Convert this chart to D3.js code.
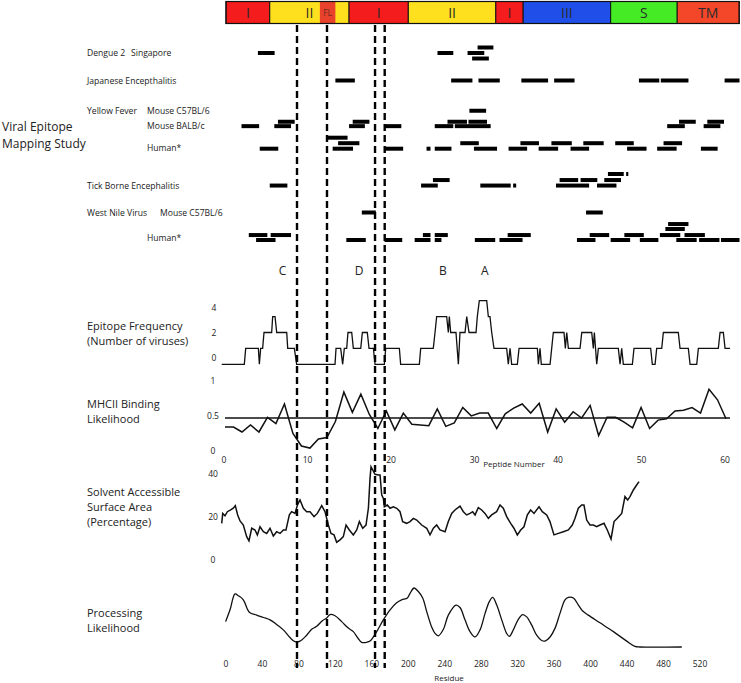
<!DOCTYPE html>
<html>
<head>
<meta charset="utf-8">
<title>Viral Epitope Mapping</title>
<script src="https://cdn.jsdelivr.net/npm/d3@7"></script>
<style>
  body { margin: 0; background: #fff; }
  text { font-family: "Open Sans", "Noto Sans", sans-serif; fill: #222; }
</style>
</head>
<body>
<div id="container"></div>
<script>

const width = 741,
      height = 683;

// ---- data ----

// protein domain schematic, in residues
const domainNames  = ["I", "II", "I", "II", "I", "III", "S", "TM"];
const domainStarts = [0, 48, 135, 200, 296, 326, 422, 495];
const domainEnds   = [48, 135, 200, 296, 326, 422, 495, 563];
const domainKinds  = ["I", "II", "I", "II", "I", "III", "S", "TM"];
const fusionLoop   = [103, 120];

// dashed region markers, in residues
const markers = [77.9, 110.8, 163.5, 174.1];

// epitope bars: [start residue, end residue, track]
const dengue2 = [[35,54,2],[232,250,2],[265,284,2],[276,294,1],[270,289,3]];
const japaneseEnc = [[120,142,7],[247,271,7],[277,301,7],[324,354,7],[360,383,7],[453,476,7],[477,508,7],[547,564,7]];
const yfC57 = [[267,286,12.5],[57,76,14.5],[139,158,14.5],[243,265,14.5],[266,287,14.5],[497,516,14.5],[528,547,14.5]];
const yfBalb = [[17,37,15.3],[53,72,15.3],[135,153,15.3],[174,193,15.3],[229,250,15.3],[251,291,15.3],[484,504,15.3],[524,543,15.3]];
const yfHuman = [[110,134,17.4],[123,147,18.4],[257,278,18.4],[323,344,18.4],[357,380,18.4],[392,415,18.4],[427,448,18.4],[480,501,18.4],
                 [37,58,19.4],[117,140,19.4],[174,195,19.4],[220,225,19.4],[229,248,19.4],[272,298,19.4],[310,331,19.4],[343,365,19.4],
                 [378,399,19.4],[440,462,19.4],[473,495,19.4],[521,540,19.4]];
const tickBorne = [[419,437,24],[439,442,24],[227,246,25.1],[366,387,25.1],[389,408,25.1],[415,434,25.1],
                   [48,68,26.1],[214,233,26.1],[279,313,26.1],[315,319,26.1],[362,399,26.1],[407,429,26.1]];
const wnC57 = [[149,165,31],[395,414,31]];
const wnHuman = [[485,508,33.1],[482,504,34],
                 [25,46,35.1],[49,72,35.1],[216,225,35.1],[229,244,35.1],[309,335,35.1],[399,421,35.1],[437,459,35.1],[476,499,35.1],[503,526,35.1],
                 [33,55,36],[132,154,36],[174,194,36],[207,225,36],[229,237,36],[273,296,36],[300,326,36],[385,406,36],[422,444,36],
                 [454,475,36],[494,517,36],[519,542,36],[543,564,36]];

// study row labels: [virus, host/strain, track]
const studyRows = [
  ["Dengue 2", "Singapore", 2],
  ["Japanese Encepthalitis", "", 7],
  ["Yellow Fever", "Mouse C57BL/6", 12.5],
  ["", "Mouse BALB/c", 15.3],
  ["", "Human*", 19.2],
  ["Tick Borne Encephalitis", "", 26.1],
  ["West Nile Virus", "Mouse C57BL/6", 31],
  ["", "Human*", 35.7]
];

// epitope clusters: [letter, residue]
const clusters = [["C", 62], ["D", 146], ["B", 238], ["A", 284]];

// epitope frequency step trace: [residue, number of viruses]
const freqTrace = [
  [-4.7,0],[20.1,0],[21.6,1],[35.5,1],[36.6,0],[38,1],[40.2,1],[41.7,2],[50.1,2],[51.2,3],[53.8,3],[55.6,2],[66.6,2],[67.7,1],
  [75,1],[77.5,0],[119.6,0],[120.7,1],[125.8,1],[128,0],[129.8,1],[132.4,1],[133.8,2],[137.9,2],[139.7,1],[147.8,1],[149.6,2],
  [155,2],[156.9,1],[161.7,1],[163.5,0],[173.7,0],[175.2,1],[190.2,1],[191.6,0],[212.1,0],[213.6,1],[227.4,1],[229.3,2],[231.1,3],
  [242.1,3],[243.9,2],[245,3],[246.5,2],[252.3,2],[254.9,0],[256.7,2],[262.2,2],[264.1,3],[266.6,2],[274.3,2],[275.7,3],[277.9,4],
  [286,4],[287.8,3],[289.6,3],[291.5,2],[294,1],[307.9,1],[309.7,0],[311.6,1],[313.4,0],[319.6,0],[321.5,1],[341.6,1],[342.7,0],
  [344.5,1],[345.9,0],[355.5,0],[357.3,1],[359.1,2],[370.8,2],[372.3,1],[373.8,2],[375.6,1],[388.4,1],[390.3,2],[401.2,2],[403,1],
  [404.1,2],[406.7,0],[408.5,1],[430.4,1],[432.3,0],[434.1,1],[435.9,0],[445.8,0],[447.6,1],[465.9,1],[467.7,0],[470.7,0],[472.5,1],
  [478,1],[479.8,2],[496.2,2],[498.1,1],[507.2,1],[509.1,0],[516.4,0],[518.2,1],[540.1,1],[542,2],[545.6,2],[547.5,1],[553,1]
];
const freqTicks = ["4", "2", "0"];

// MHCII binding likelihood per peptide
const mhcValues = [0.37,0.37,0.30,0.40,0.30,0.51,0.42,0.70,0.28,0.10,0.07,0.20,0.22,0.45,0.87,0.58,0.84,0.55,0.35,0.60,
                   0.33,0.57,0.41,0.40,0.39,0.63,0.38,0.43,0.65,0.53,0.57,0.57,0.35,0.56,0.64,0.70,0.57,0.71,0.30,0.63,
                   0.44,0.59,0.50,0.68,0.25,0.51,0.51,0.44,0.36,0.65,0.35,0.47,0.49,0.60,0.61,0.65,0.57,0.91,0.76,0.49];
const mhcThreshold = 0.5;
const mhcTicks = [1, 0.5, 0];
const peptideTicks = [0, 10, 20, 30, 40, 50, 60];

// solvent accessible surface area: [residue, percent]
const sasaTrace = [
  [-4.7,18],[-3.6,22.6],[-1.1,21.5],[1.5,23.4],[5.1,24.2],[8,25],[10.2,26.2],[12.8,21.9],[15.4,19.1],[19,17.2],[22.7,11.8],
  [25.2,9.8],[28.2,15.7],[31.8,14.9],[34.4,12.6],[37.3,16.4],[41,14.1],[44.6,13.3],[48.3,15.7],[51.9,12.1],[55.6,14.1],[59.3,13.3],
  [62.9,14.9],[65.8,14.9],[69.5,21.9],[72,23.4],[75.7,22.6],[78.6,26.8],[81.2,28.8],[84.9,25],[88.5,23.4],[92.2,23.4],[96.6,21.1],
  [100.2,22.6],[105,26.2],[108.6,23.4],[112.3,17.2],[115.2,13.3],[118.5,12.6],[121.4,9.2],[125.1,10.3],[128.7,11.8],[131.7,17.2],
  [135.3,14.9],[139.7,12.6],[143.4,14.9],[146.3,18.8],[150,15.7],[153.6,17.2],[156.2,25],[158,38.9],[159.1,44.3],[163.5,40.8],
  [167.1,40.5],[169,40.5],[170.8,31.2],[172.6,29.6],[173.7,25.7],[177,26.5],[180,25],[183.6,25.7],[187.3,25],[190.9,23.4],
  [193.8,18.8],[198.2,18],[201.9,18.8],[205.5,20.3],[209.2,19.5],[214.7,17.2],[220.2,15.7],[223.8,12.6],[227.5,15.7],[231.1,17.2],
  [234.8,14.9],[240.3,14.1],[243.9,18.8],[247.6,22.6],[251.2,24.2],[256.7,26],[260.4,23.4],[264,21.9],[267.7,22.6],[270.6,23.4],
  [273.2,21.9],[276.8,25.3],[280.5,24.2],[284.1,22.6],[287.8,20.3],[291.4,21.9],[296.9,23.4],[300.6,26.5],[304.2,25],[307.9,21.1],
  [312.3,18],[315.9,15.7],[319.6,12.6],[323.3,14.9],[326.9,16.4],[330.6,21.9],[334.2,24.2],[337.9,22.6],[343.4,25.7],[347,23.4],
  [351.8,21.9],[355.4,18.8],[359.8,12.6],[364.6,13.3],[370.1,14.1],[375.6,14.9],[379.9,17.2],[382.9,20.3],[386.5,25],[390.2,26.5],
  [392.7,26.5],[395.7,19.5],[399.3,17.2],[403,17.2],[406.6,16.4],[410.3,17.2],[414.7,18],[418.3,14.9],[422.4,10.7],[425.7,18.8],
  [429.3,20.3],[434.1,22.6],[437.7,30.4],[440.6,28.8],[443.2,30.4],[446.9,33.5],[450.5,35.8],[453.1,37.4]
];
const sasaTicks = [40, 20, 0];

// processing likelihood: [residue, relative likelihood]
const procTrace = [
  [-0.4,0.43],[4.4,0.63],[9.9,0.90],[13.5,0.87],[19,0.80],[25.6,0.59],[33.6,0.54],[41,0.50],[48.3,0.46],[55.6,0.38],[62.9,0.29],
  [70.2,0.16],[75.7,0.09],[81.2,0.10],[88.5,0.20],[94,0.30],[99.5,0.35],[106.1,0.45],[110.5,0.49],[114.1,0.55],[119.6,0.53],
  [126.9,0.43],[134.2,0.32],[139.7,0.26],[145.2,0.14],[148.8,0.08],[154.3,0.08],[158,0.10],[165.3,0.26],[172.6,0.46],[180,0.63],
  [187.2,0.75],[192.7,0.80],[199,0.83],[201.9,0.91],[206.3,1.0],[211,0.94],[215.8,0.83],[220.2,0.60],[225.6,0.34],[229.3,0.23],
  [233,0.19],[238.5,0.30],[243.9,0.54],[252.3,0.71],[256.7,0.67],[262.2,0.46],[267.7,0.26],[273.2,0.17],[278.7,0.29],[284.2,0.57],
  [288.9,0.77],[292.6,0.84],[297,0.71],[302.5,0.46],[307.9,0.23],[310.8,0.18],[315.2,0.29],[320.7,0.47],[325.5,0.55],[329.9,0.51],
  [335.4,0.37],[340.8,0.20],[346.3,0.11],[350,0.10],[355.5,0.17],[361,0.32],[366.4,0.57],[371.9,0.80],[375.6,0.84],[381.1,0.83],
  [386.6,0.71],[391.3,0.61],[397.5,0.54],[410.3,0.41],[425,0.26],[439.6,0.10],[448.7,0.01],[454.2,0],[500,0]
];
const residueTicks = [0, 40, 80, 120, 160, 200, 240, 280, 320, 360, 400, 440, 480, 520];

// ---- styles ----
const domainColors = { "I": "#f41c1c", "II": "#ffe01f", "III": "#1f4fe8", "S": "#45ec25", "TM": "#f4472a" };
const flColor = "#e8412c";

// ---- scales ----
const xRes   = d3.scaleLinear().domain([0, 520]).range([226, 700]);
const yTrack = d3.scaleLinear().domain([0, 40]).range([42, 262]);
const yFreq  = d3.scaleLinear().domain([0, 4]).range([364.3, 300.7]);
const yFreqLabel = d3.scalePoint().domain(freqTicks).range([308, 358]);
const xPep   = d3.scaleLinear().domain([0, 60]).range([224, 725]);
const xMhc   = d3.scaleLinear().domain([0, mhcValues.length - 1]).range([225, 726]);
const yMhc   = d3.scaleLinear().domain([0, 1]).range([453, 383]);
const ySasa  = d3.scaleLinear().domain([0, 40]).range([562, 476]);
const yProc  = d3.scaleLinear().domain([0, 1]).range([647, 588]);

const svg = d3.select("#container")
  .append("svg")
  .attr("width", width)
  .attr("height", height)
  .style("display", "block");

// ---- domain bar ----
const barTop = 1.5, barH = 22;
const dom = domainNames.map((n, i) => ({ name: n, kind: domainKinds[i], s: domainStarts[i], e: domainEnds[i] }));

svg.selectAll("rect.domain")
  .data(dom)
  .enter()
  .append("rect")
  .attr("class", "domain")
  .attr("x", d => xRes(d.s))
  .attr("y", barTop)
  .attr("width", d => xRes(d.e) - xRes(d.s))
  .attr("height", barH)
  .attr("fill", d => domainColors[d.kind])
  .attr("stroke", "#111")
  .attr("stroke-width", 1);

svg.append("rect")
  .attr("x", xRes(fusionLoop[0]))
  .attr("y", barTop + 0.5)
  .attr("width", xRes(fusionLoop[1]) - xRes(fusionLoop[0]))
  .attr("height", barH - 1)
  .attr("fill", flColor);

svg.append("text")
  .attr("x", (xRes(fusionLoop[0]) + xRes(fusionLoop[1])) / 2)
  .attr("y", barTop + barH / 2 + 3)
  .attr("text-anchor", "middle")
  .style("font-size", "8.5px")
  .style("fill", "#6e2a22")
  .text("FL");

svg.selectAll("text.domain")
  .data(dom)
  .enter()
  .append("text")
  .attr("class", "domain")
  .attr("x", d => (xRes(d.s) + xRes(d.e)) / 2)
  .attr("y", barTop + barH / 2 + 5)
  .attr("text-anchor", "middle")
  .style("font-size", "14px")
  .style("fill", "#2b2b2b")
  .text(d => d.name);

svg.append("rect")
  .attr("x", xRes(domainStarts[0]))
  .attr("y", barTop)
  .attr("width", xRes(domainEnds[domainEnds.length - 1]) - xRes(domainStarts[0]))
  .attr("height", barH)
  .attr("fill", "none")
  .attr("stroke", "#111")
  .attr("stroke-width", 1.2);

// ---- epitope mapping study ----
svg.append("text").attr("x", 2).attr("y", 131).style("font-size", "12px").text("Viral Epitope");
svg.append("text").attr("x", 2).attr("y", 147.5).style("font-size", "12px").text("Mapping Study");

// second-column label x depends on the width of the virus name
const subLabelX = { "Dengue 2": 131, "Yellow Fever": 147, "West Nile Virus": 160, "": 147 };

studyRows.forEach(function(r) {
  const y = yTrack(r[2]) + 3;
  if (r[0]) {
    svg.append("text").attr("x", 87).attr("y", y).style("font-size", "8.6px").text(r[0]);
  }
  if (r[1]) {
    svg.append("text")
      .attr("x", subLabelX[r[0]])
      .attr("y", y)
      .style("font-size", "8.6px")
      .text(r[1]);
  }
});

const allEpitopes = [].concat(dengue2, japaneseEnc, yfC57, yfBalb, yfHuman, tickBorne, wnC57, wnHuman);

svg.selectAll("rect.epi")
  .data(allEpitopes)
  .enter()
  .append("rect")
  .attr("class", "epi")
  .attr("x", d => xRes(d[0]))
  .attr("y", d => yTrack(d[2]) - 2)
  .attr("width", d => xRes(d[1]) - xRes(d[0]) - 0.6)
  .attr("height", 4)
  .attr("fill", "#000");

svg.selectAll("text.cluster")
  .data(clusters)
  .enter()
  .append("text")
  .attr("class", "cluster")
  .attr("x", d => xRes(d[1]))
  .attr("y", 275)
  .attr("text-anchor", "middle")
  .style("font-size", "12px")
  .text(d => d[0]);

// ---- epitope frequency ----
svg.append("text").attr("x", 87).attr("y", 330).style("font-size", "11px").text("Epitope Frequency");
svg.append("text").attr("x", 87).attr("y", 345).style("font-size", "11px").text("(Number of viruses)");

svg.selectAll("text.freqtick")
  .data(freqTicks)
  .enter()
  .append("text")
  .attr("class", "freqtick")
  .attr("x", 214)
  .attr("y", d => yFreqLabel(d) + 3)
  .attr("text-anchor", "middle")
  .style("font-size", "8.5px")
  .text(d => d);

svg.append("path")
  .datum(freqTrace)
  .attr("fill", "none")
  .attr("stroke", "#111")
  .attr("stroke-width", 1.3)
  .attr("d", d3.line().x(d => xRes(d[0])).y(d => yFreq(d[1])));

// ---- MHCII binding ----
svg.append("text").attr("x", 87).attr("y", 408).style("font-size", "11px").text("MHCII Binding");
svg.append("text").attr("x", 87).attr("y", 423).style("font-size", "11px").text("Likelihood");

svg.selectAll("text.mhctick")
  .data(mhcTicks)
  .enter()
  .append("text")
  .attr("class", "mhctick")
  .attr("x", 213)
  .attr("y", d => yMhc(d) + 1)
  .attr("text-anchor", "middle")
  .style("font-size", "8.5px")
  .text(d => d);

svg.append("line")
  .attr("x1", xMhc(0))
  .attr("x2", xPep(60) + 5)
  .attr("y1", yMhc(mhcThreshold))
  .attr("y2", yMhc(mhcThreshold))
  .attr("stroke", "#111")
  .attr("stroke-width", 1.3);

svg.append("path")
  .datum(mhcValues)
  .attr("fill", "none")
  .attr("stroke", "#111")
  .attr("stroke-width", 1.5)
  .attr("d", d3.line().x((d, i) => xMhc(i)).y(d => yMhc(d)));

svg.selectAll("text.peptick")
  .data(peptideTicks)
  .enter()
  .append("text")
  .attr("class", "peptick")
  .attr("x", d => xPep(d))
  .attr("y", 463)
  .attr("text-anchor", "middle")
  .style("font-size", "8.5px")
  .text(d => d);

svg.append("text")
  .attr("x", 514)
  .attr("y", 467)
  .attr("text-anchor", "middle")
  .style("font-size", "8px")
  .text("Peptide Number");

// ---- solvent accessible surface area ----
svg.append("text").attr("x", 87).attr("y", 496).style("font-size", "11px").text("Solvent Accessible");
svg.append("text").attr("x", 87).attr("y", 511).style("font-size", "11px").text("Surface Area");
svg.append("text").attr("x", 87).attr("y", 526).style("font-size", "11px").text("(Percentage)");

svg.selectAll("text.sasatick")
  .data(sasaTicks)
  .enter()
  .append("text")
  .attr("class", "sasatick")
  .attr("x", 213)
  .attr("y", d => ySasa(d) + 1)
  .attr("text-anchor", "middle")
  .style("font-size", "8.5px")
  .text(d => d);

svg.append("path")
  .datum(sasaTrace)
  .attr("fill", "none")
  .attr("stroke", "#111")
  .attr("stroke-width", 1.5)
  .attr("d", d3.line().x(d => xRes(d[0])).y(d => ySasa(d[1])));

// ---- processing likelihood ----
svg.append("text").attr("x", 87).attr("y", 617).style("font-size", "11px").text("Processing");
svg.append("text").attr("x", 87).attr("y", 632).style("font-size", "11px").text("Likelihood");

svg.append("path")
  .datum(procTrace)
  .attr("fill", "none")
  .attr("stroke", "#111")
  .attr("stroke-width", 1.3)
  .attr("d", d3.line().curve(d3.curveCatmullRom).x(d => xRes(d[0])).y(d => yProc(d[1])));

svg.selectAll("text.restick")
  .data(residueTicks)
  .enter()
  .append("text")
  .attr("class", "restick")
  .attr("x", d => xRes(d))
  .attr("y", 667)
  .attr("text-anchor", "middle")
  .style("font-size", "8.5px")
  .text(d => d);

svg.append("text")
  .attr("x", 449)
  .attr("y", 681)
  .attr("text-anchor", "middle")
  .style("font-size", "8px")
  .text("Residue");

// ---- dashed markers ----
svg.selectAll("line.marker")
  .data(markers)
  .enter()
  .append("line")
  .attr("class", "marker")
  .attr("x1", d => xRes(d))
  .attr("x2", d => xRes(d))
  .attr("y1", 25)
  .attr("y2", 668)
  .attr("stroke", "#000")
  .attr("stroke-width", 2.4)
  .attr("stroke-dasharray", "7,4");

</script>
</body>
</html>
